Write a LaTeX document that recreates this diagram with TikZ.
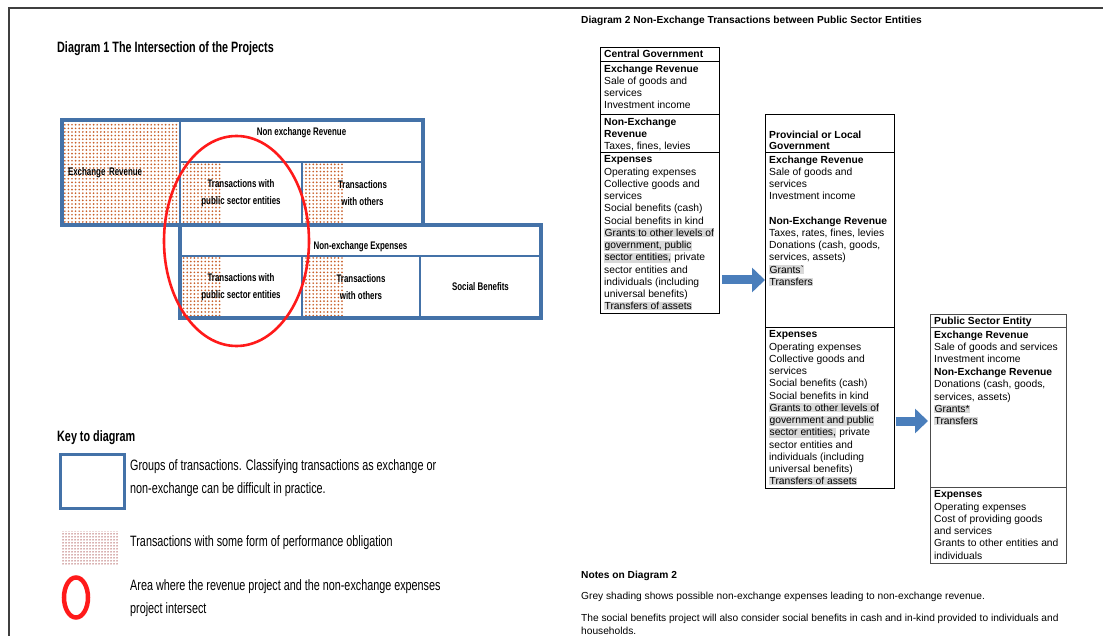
\documentclass[tikz,border=0pt]{standalone}
\usepackage{fontspec}
\setmainfont{Liberation Sans}
\newfontfamily\narrowfont[FakeStretch=0.72]{Liberation Sans}
\usetikzlibrary{shapes.geometric, arrows.meta, positioning,
                fit, backgrounds, patterns.meta}
\definecolor{boxblue}{HTML}{4472A8}
\definecolor{dotorange}{HTML}{C8602A}
\definecolor{keydot}{HTML}{B06060}
\definecolor{ringred}{HTML}{FF1A1A}
\definecolor{arrowblue}{HTML}{4A7EBB}
\definecolor{shadegrey}{HTML}{D9D9D9}
\definecolor{framegrey}{HTML}{3F3F3F}
\newcommand{\greyhl}[1]{{\setlength{\fboxsep}{0.4pt}\colorbox{shadegrey}{#1}}}
\tikzset{
  cell/.style={
    rectangle, draw=boxblue, line width=2.2pt, anchor=north west,
    outer sep=0pt, inner sep=2pt, align=center,
    font=\narrowfont\bfseries\fontsize{11}{17}\selectfont
  },
  group/.style={
    rectangle, draw=boxblue, line width=3.2pt, inner sep=0pt, outer sep=0pt
  },
  dotfill/.style={
    pattern={Dots[distance=3.6pt, radius=0.95pt]}, pattern color=dotorange
  },
  sect/.style={
    rectangle, draw=black, line width=0.8pt, anchor=north west,
    outer sep=0pt, inner sep=0pt
  },
  entry/.style={
    anchor=north west, align=left, inner xsep=4pt, inner ysep=3.5pt,
    font=\fontsize{10.3}{12.25}\selectfont
  },
  blockarrow/.style={
    draw=arrowblue, line width=9pt, -{Triangle[length=13pt, width=24pt]}
  },
  keytext/.style={
    anchor=west, align=left, inner xsep=0pt,
    font=\narrowfont\fontsize{15}{23}\selectfont
  },
  note/.style={
    anchor=west, align=left, inner xsep=0pt,
    font=\fontsize{10.2}{13}\selectfont
  }
}

\begin{document}
\begin{tikzpicture}[x=1pt, y=-1pt]
  \useasboundingbox (0,0) rectangle (1103,636);
  \draw[framegrey, line width=1.2pt] (9,636) -- (9,8) -- (1103,8);

  \node[anchor=west, inner xsep=0pt,
        font=\narrowfont\bfseries\fontsize{15}{17}\selectfont]
    (d1Title) at (57,49) {Diagram 1 The Intersection of the Projects};

  \node[cell, minimum width=118pt, minimum height=105pt,
        text width=106pt, align=left] (exRev) at (62,120) {Exchange Revenue};
  \node[cell, minimum width=243pt, minimum height=42pt, text depth=19pt]
    (nxRevHead) at (180,120) {Non exchange Revenue};
  \node[cell, minimum width=122pt, minimum height=63pt]
    (pubRev) at (180,162) {Transactions with\\public sector entities};
  \node[cell, minimum width=121pt, minimum height=63pt]
    (othRev) at (302,162) {Transactions\\with others};
  \node[cell, minimum width=361pt, minimum height=31pt, text height=19.5pt]
    (nxExpHead) at (180,225) {Non-exchange Expenses};
  \node[cell, minimum width=122pt, minimum height=62pt]
    (pubExp) at (180,256) {Transactions with\\public sector entities};
  \node[cell, minimum width=118pt, minimum height=62pt]
    (othExp) at (302,256) {Transactions\\with others};
  \node[cell, minimum width=121pt, minimum height=62pt]
    (socBen) at (420,256) {Social Benefits};
  \begin{scope}[on background layer]
    \fill[dotfill] (exRev.north west) rectangle (exRev.south east);
    \fill[dotfill] (pubRev.north west) rectangle ([xshift=42pt]pubRev.south west);
    \fill[dotfill] (othRev.north west) rectangle ([xshift=41pt]othRev.south west);
    \fill[dotfill] (pubExp.north west) rectangle ([xshift=42pt]pubExp.south west);
    \fill[dotfill] (othExp.north west) rectangle ([xshift=41pt]othExp.south west);
  \end{scope}
  \node[group, fit=(exRev)(othRev)] (revGroup) {};
  \node[group, fit=(nxExpHead)(socBen)] (expGroup) {};
  \node[ellipse, draw=ringred, line width=2.6pt, inner sep=0pt,
        minimum width=145pt, minimum height=210pt] (overlap) at (236.5,241) {};

  \node[anchor=west, inner xsep=0pt,
        font=\narrowfont\bfseries\fontsize{15}{17}\selectfont]
    (keyTitle) at (57,438) {Key to diagram};
  \node[rectangle, draw=boxblue, line width=3pt, anchor=north west,
        minimum width=64pt, minimum height=54pt] (keyBox) at (58.5,452.5) {};
  \node[keytext] (keyBoxT) at (130,478.5)
    {Groups of transactions. Classifying transactions as exchange or\\
     non-exchange can be difficult in practice.};
  \node[rectangle, pattern={Dots[distance=3pt, radius=0.75pt]},
        pattern color=keydot, anchor=north west,
        minimum width=57pt, minimum height=33pt] (keyDots) at (62,531) {};
  \node[keytext] (keyDotsT) at (130,543)
    {Transactions with some form of performance obligation};
  \node[ellipse, draw=ringred, line width=4.5pt, inner sep=0pt,
        minimum width=24pt, minimum height=40pt] (keyRing) at (76,597.5) {};
  \node[keytext] (keyRingT) at (130,598.5)
    {Area where the revenue project and the non-exchange expenses\\
     project intersect};

  \node[anchor=west, inner xsep=0pt, font=\bfseries\fontsize{10.2}{12}\selectfont]
    (d2Title) at (581,21)
    {Diagram 2 Non-Exchange Transactions between Public Sector Entities};

  \node[sect, minimum width=119pt, minimum height=14pt] (cgHead) at (600,47) {};
  \node[sect, minimum width=119pt, minimum height=53pt,
        below=0pt of cgHead.south west, anchor=north west] (cgExch) {};
  \node[sect, minimum width=119pt, minimum height=38pt,
        below=0pt of cgExch.south west, anchor=north west] (cgNonEx) {};
  \node[sect, minimum width=119pt, minimum height=161pt,
        below=0pt of cgNonEx.south west, anchor=north west] (cgExp) {};
  \node[entry, inner ysep=2.5pt] (cgHeadT) at (cgHead.north west)
    {\textbf{Central Government}};
  \node[entry] (cgExchT) at (cgExch.north west)
    {\textbf{Exchange Revenue}\\Sale of goods and\\services\\Investment income};
  \node[entry] (cgNonExT) at (cgNonEx.north west)
    {\textbf{Non-Exchange}\\\textbf{Revenue}\\Taxes, fines, levies};
  \node[entry] (cgExpT) at (cgExp.north west)
    {\textbf{Expenses}\\Operating expenses\\Collective goods and\\services\\
     Social benefits (cash)\\Social benefits in kind\\
     \greyhl{Grants to other levels of}\\\greyhl{government, public}\\
     \greyhl{sector entities,} private\\sector entities and\\
     individuals (including\\universal benefits)\\\greyhl{Transfers of assets}};

  \node[sect, minimum width=129pt, minimum height=38pt] (pvHead) at (765,114) {};
  \node[sect, minimum width=129pt, minimum height=175pt,
        below=0pt of pvHead.south west, anchor=north west] (pvRev) {};
  \node[sect, minimum width=129pt, minimum height=161pt,
        below=0pt of pvRev.south west, anchor=north west] (pvExp) {};
  \node[entry, anchor=south west, inner ysep=2.5pt,
        font=\bfseries\fontsize{10.3}{11}\selectfont]
    (pvHeadT) at (pvHead.south west) {Provincial or Local\\Government};
  \node[entry] (pvRevT) at (pvRev.north west)
    {\textbf{Exchange Revenue}\\Sale of goods and\\services\\Investment income\\[12pt]
     \textbf{Non-Exchange Revenue}\\Taxes, rates, fines, levies\\
     Donations (cash, goods,\\services, assets)\\
     \greyhl{Grants\textasciigrave}\\\greyhl{Transfers}};
  \node[entry] (pvExpT) at (pvExp.north west)
    {\textbf{Expenses}\\Operating expenses\\Collective goods and\\services\\
     Social benefits (cash)\\Social benefits in kind\\
     \greyhl{Grants to other levels of}\\\greyhl{government and public}\\
     \greyhl{sector entities,} private\\sector entities and\\
     individuals (including\\universal benefits)\\\greyhl{Transfers of assets}};

  \node[sect, draw=black!70, minimum width=136pt, minimum height=13pt]
    (psHead) at (930,314) {};
  \node[sect, draw=black!70, minimum width=136pt, minimum height=160pt,
        below=0pt of psHead.south west, anchor=north west] (psRev) {};
  \node[sect, draw=black!70, minimum width=136pt, minimum height=76pt,
        below=0pt of psRev.south west, anchor=north west] (psExp) {};
  \node[entry, inner ysep=2.5pt] (psHeadT) at (psHead.north west)
    {\textbf{Public Sector Entity}};
  \node[entry, font=\fontsize{10.3}{12.4}\selectfont] (psRevT) at (psRev.north west)
    {\textbf{Exchange Revenue}\\Sale of goods and services\\Investment income\\
     \textbf{Non-Exchange Revenue}\\Donations (cash, goods,\\services, assets)\\
     \greyhl{Grants*}\\\greyhl{Transfers}};
  \node[entry] (psExpT) at (psExp.north west)
    {\textbf{Expenses}\\Operating expenses\\Cost of providing goods\\and services\\
     Grants to other entities and\\individuals};

  \draw[blockarrow, shorten <=3pt] (cgExp.east |- 0,280) -- (pvRev.west |- 0,280);
  \draw[blockarrow, shorten <=1.5pt, shorten >=2pt]
    (pvExp.east |- 0,421) -- (psRev.west |- 0,421);

  \node[note, font=\bfseries\fontsize{10.2}{13}\selectfont] (notesT) at (581,576)
    {Notes on Diagram 2};
  \node[note] (noteA) at (581,597)
    {Grey shading shows possible non-exchange expenses leading to non-exchange revenue.};
  \node[note] (noteB) at (581,624.5)
    {The social benefits project will also consider social benefits in cash and in-kind provided to individuals and\\
     households.};
\end{tikzpicture}
\end{document}
